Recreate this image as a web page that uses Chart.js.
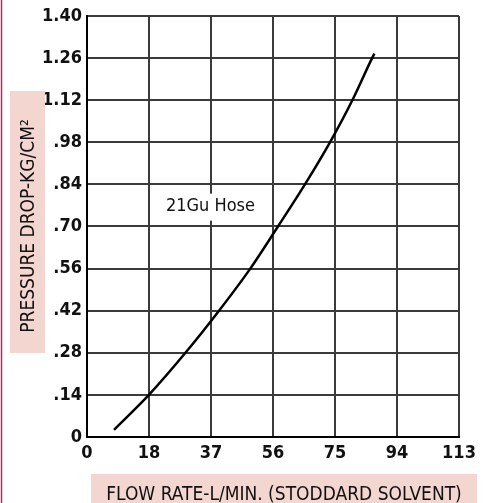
<!DOCTYPE html>
<html>
<head>
<meta charset="utf-8">
<script src="https://cdn.jsdelivr.net/npm/chart.js@4"></script>
<style>
  body { margin: 0; background: #fff; }
  #wrap { width: 487px; height: 503px; }
</style>
</head>
<body>
<div id="wrap"><canvas id="hoseChart" width="487" height="503"></canvas></div>
<script>
// flow rate (L/min) vs pressure drop (kg/cm2)
const flowRates = [8.2, 18.8, 29.9, 40.1, 49.6, 58.0, 66.2, 73.8, 80.6, 86.6, 87.3];
const pressureDrops = [0.024, 0.14, 0.28, 0.42, 0.56, 0.70, 0.84, 0.98, 1.12, 1.26, 1.275];

const xTickLabels = ['0', '18', '37', '56', '75', '94', '113'];
const yTickLabels = ['0', '.14', '.28', '.42', '.56', '.70', '.84', '.98', '1.12', '1.26', '1.40'];

const seriesName = '21Gu Hose';
const xTitle = 'FLOW RATE-L/MIN. (STODDARD SOLVENT)';
const yTitle = 'PRESSURE DROP-KG/CM\u00B2';

const fontStack = '"DejaVu Sans Condensed", "Liberation Sans", sans-serif';
const xMax = 113;

const decorPlugin = {
    id: 'decor',
    afterDraw(chart) {
        const c = chart.ctx;
        const xs = chart.scales.x, ys = chart.scales.y;
        c.save();

        // thin border line at left edge
        c.strokeStyle = '#cc1f55';
        c.lineWidth = 1.5;
        c.beginPath();
        c.moveTo(1.5, 0);
        c.lineTo(1.5, chart.height);
        c.stroke();

        // x title box
        c.fillStyle = '#f4d6d0';
        c.fillRect(91, 474, 386, 29);
        c.fillStyle = '#111';
        c.font = '19px ' + fontStack;
        c.textAlign = 'center';
        c.textBaseline = 'alphabetic';
        c.fillText(xTitle, 284, 500);

        // y title box
        c.fillStyle = '#f4d6d0';
        c.fillRect(10, 91, 35, 262);
        c.translate(34, 226);
        c.rotate(-Math.PI / 2);
        c.fillStyle = '#111';
        c.fillText(yTitle, 0, 0);
        c.restore();

        // series label with white backing
        c.save();
        c.font = '18px ' + fontStack;
        c.textAlign = 'center';
        c.textBaseline = 'middle';
        const lx = xs.getPixelForValue(37.5);
        const ly = ys.getPixelForValue(0.766);
        const w = c.measureText(seriesName).width;
        c.fillStyle = '#fff';
        c.fillRect(lx - w / 2 - 6, ly - 13, w + 12, 27);
        c.fillStyle = '#111';
        c.fillText(seriesName, lx, ly);
        c.restore();
    }
};

new Chart(document.getElementById('hoseChart'), {
    type: 'scatter',
    data: {
        datasets: [{
            label: seriesName,
            data: flowRates.map((x, i) => ({ x: x, y: pressureDrops[i] })),
            showLine: true,
            borderColor: '#000',
            borderWidth: 2.5,
            pointRadius: 0,
            cubicInterpolationMode: 'monotone'
        }]
    },
    options: {
        responsive: false,
        animation: false,
        layout: { padding: { left: 0, top: 16, right: 28, bottom: 0 } },
        plugins: {
            legend: { display: false },
            tooltip: { enabled: false }
        },
        scales: {
            x: {
                type: 'linear',
                min: 0,
                max: xMax,
                afterBuildTicks: (scale) => {
                    scale.ticks = xTickLabels.map((t, i) => ({ value: i * xMax / 6 }));
                },
                afterFit: (scale) => { scale.height = 66; },
                ticks: {
                    color: '#111',
                    font: { family: fontStack, size: 18, weight: 'bold' },
                    padding: 6,
                    maxRotation: 0,
                    callback: (v, i) => xTickLabels[i]
                },
                grid: { color: '#3a3a3a', lineWidth: 2, drawTicks: false },
                border: { color: '#000', width: 2 }
            },
            y: {
                min: 0,
                max: 1.40,
                afterBuildTicks: (scale) => {
                    scale.ticks = yTickLabels.map((t, i) => ({ value: i * 0.14 }));
                },
                afterFit: (scale) => { scale.width = 87; },
                ticks: {
                    color: '#111',
                    font: { family: fontStack, size: 18, weight: 'bold' },
                    padding: 5,
                    callback: (v, i) => yTickLabels[i]
                },
                grid: { color: '#3a3a3a', lineWidth: 2, drawTicks: false },
                border: { color: '#000', width: 2 }
            }
        }
    },
    plugins: [decorPlugin]
});
</script>
</body>
</html>
